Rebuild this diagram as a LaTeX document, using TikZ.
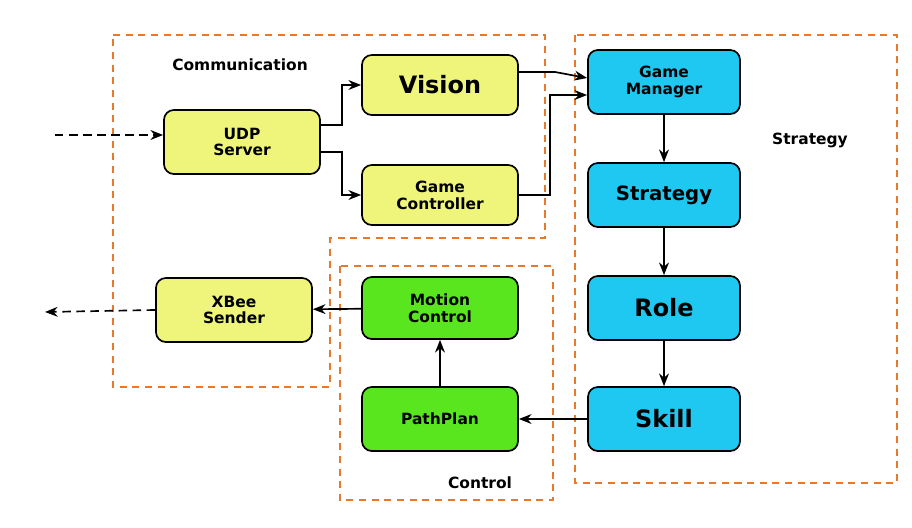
\documentclass[tikz,border=0pt]{standalone}
\usepackage{fontspec}
\setmainfont{DejaVu Sans}
\usetikzlibrary{arrows.meta}
\definecolor{yel}{HTML}{EEF57A}
\definecolor{cya}{HTML}{1EC8F0}
\definecolor{grn}{HTML}{5AE61E}
\definecolor{org}{HTML}{E8782A}
\begin{document}
\begin{tikzpicture}[x=0.025cm,y=-0.025cm,
 box/.style={draw=black,line width=1.2pt,rounded corners=7pt,font=\bfseries\fontsize{11}{12}\selectfont,align=center,inner sep=0pt},
 big/.style={font=\bfseries\fontsize{17}{19}\selectfont},
 grp/.style={draw=org,line width=1.3pt,dash pattern=on 5pt off 4pt},
 arr/.style={-{Stealth[length=9pt,width=7pt]},line width=1.2pt},
 lab/.style={font=\bfseries\fontsize{11}{12}\selectfont}]
\useasboundingbox (0,0) rectangle (912,527);
\draw[grp] (113,35) -- (545,35) -- (545,238) -- (330,238) -- (330,387) -- (113,387) -- cycle;
\draw[grp] (575,35) rectangle (897,483);
\draw[grp] (340,266) rectangle (553,500);
\newcommand{\bx}[6]{\node[box,fill=#6,minimum width=#4*0.025cm,minimum height=#5*0.025cm] (#1) at (#2,#3) {#1x};}
\node[box,fill=yel,minimum width=3.9cm,minimum height=1.6cm] (udp) at (242,142) {UDP\\Server};
\node[box,big,fill=yel,minimum width=3.9cm,minimum height=1.5cm] (vis) at (440,85) {Vision};
\node[box,fill=yel,minimum width=3.9cm,minimum height=1.5cm] (gc) at (440,195) {Game\\Controller};
\node[box,fill=yel,minimum width=3.9cm,minimum height=1.6cm] (xb) at (234,310) {XBee\\Sender};
\node[box,fill=grn,minimum width=3.9cm,minimum height=1.55cm] (mc) at (440,308) {Motion\\Control};
\node[box,fill=grn,minimum width=3.9cm,minimum height=1.6cm] (pp) at (440,419) {PathPlan};
\node[box,fill=cya,minimum width=3.8cm,minimum height=1.6cm] (gm) at (664,82) {Game\\Manager};
\node[box,big,fill=cya,minimum width=3.8cm,minimum height=1.6cm,font=\bfseries\fontsize{14}{16}\selectfont] (st) at (664,195) {Strategy};
\node[box,big,fill=cya,minimum width=3.8cm,minimum height=1.6cm] (ro) at (664,308) {Role};
\node[box,big,fill=cya,minimum width=3.8cm,minimum height=1.6cm] (sk) at (664,419) {Skill};
\node[lab] (lc) at (240,65) {Communication};
\node[lab] (ls) at (810,140) {Strategy};
\node[lab] (lo) at (480,483) {Control};
\coordinate (in) at (55,135);
\coordinate (out) at (45,312);
\draw[arr,dashed,dash pattern=on 6pt off 4pt] (in) -- (udp.west |- in);
\draw[arr,dashed,dash pattern=on 6pt off 4pt] (xb.west) -- (out);
\draw[arr] (udp.east |- 0,125) -- (342,125) -- (342,85) -- (vis.west);
\draw[arr] (udp.east |- 0,152) -- (342,152) -- (342,195) -- (gc.west);
\draw[arr] (vis.east |- 0,72) -- (555,72) -- (gm.west |- 0,78);
\draw[arr] (gc.east) -- (550,195) -- (550,95) -- (gm.west |- 0,95);
\draw[arr] (gm) -- (st);
\draw[arr] (st) -- (ro);
\draw[arr] (ro) -- (sk);
\draw[arr] (sk) -- (pp);
\draw[arr] (pp) -- (mc);
\draw[arr] (mc) -- (xb);
\end{tikzpicture}
\end{document}
